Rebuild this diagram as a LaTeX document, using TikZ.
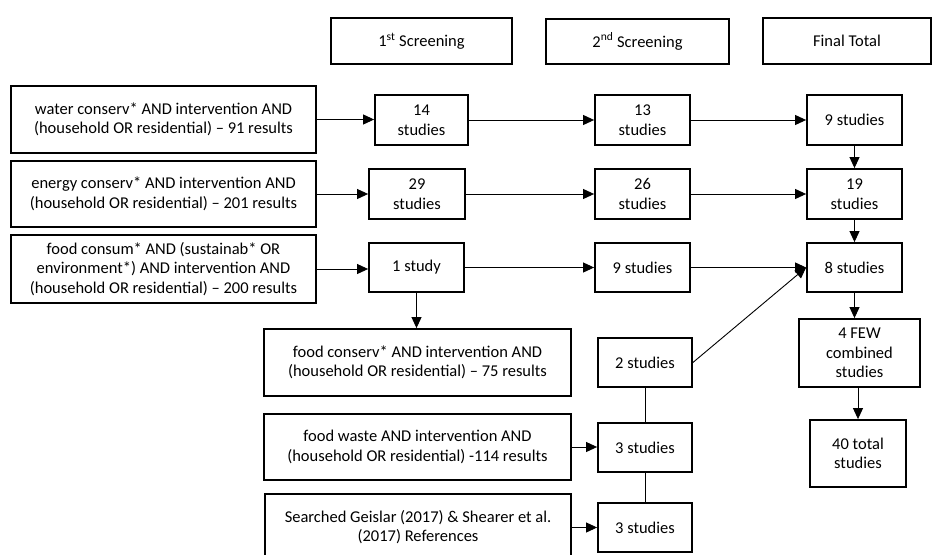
\documentclass[tikz,border=0pt]{standalone}
\usepackage{fontspec}
\setmainfont{Carlito}
\usetikzlibrary{arrows.meta}
\begin{document}
\begin{tikzpicture}[x=1pt,y=-1pt,
 box/.style={draw, line width=1.8pt, inner sep=0pt, align=center, font=\fontsize{16.5}{19.5}\selectfont},
 qbox/.style={box, minimum width=305pt},
 sbox/.style={box, minimum width=95pt, minimum height=49pt},
 arr/.style={-{Triangle[length=11pt,width=10pt]}, line width=0.9pt},
 ln/.style={line width=0.9pt}]
\useasboundingbox (0,0) rectangle (934,554);
% headers
\node[box, minimum width=181pt, minimum height=46pt] (h1) at (421.5,41) {1\textsuperscript{st} Screening};
\node[box, minimum width=183pt, minimum height=45pt] (h2) at (637.5,41.5) {2\textsuperscript{nd} Screening};
\node[box, minimum width=168pt, minimum height=46pt] (h3) at (847,41) {Final Total};
% search boxes
\node[qbox, minimum height=67pt] (water) at (163.5,119.5) {water conserv* AND intervention AND\\(household OR residential) -- 91 results};
\node[qbox, minimum height=66pt] (energy) at (163.5,194) {energy conserv* AND intervention AND\\(household OR residential) -- 201 results};
\node[qbox, minimum height=68pt] (consum) at (163.5,269) {food consum* AND (sustainab* OR\\environment*) AND intervention AND\\(household OR residential) -- 200 results};
\node[qbox, minimum width=307pt, minimum height=67pt] (conserv) at (417.5,362.5) {food conserv* AND intervention AND\\(household OR residential) -- 75 results};
\node[qbox, minimum width=307pt, minimum height=66pt] (waste) at (417.5,447) {food waste AND intervention AND\\(household OR residential) -114 results};
\node[qbox, minimum width=306pt, minimum height=66pt] (geis) at (418,527) {Searched Geislar (2017) \& Shearer et al.\\(2017) References};
% first screening
\node[sbox, minimum width=93pt, minimum height=50pt] (s14) at (421.5,120) {14\\studies};
\node[sbox, minimum width=96pt, minimum height=50pt] (s29) at (417,194) {29\\studies};
\node[sbox] (s1) at (416.5,267.5) {1 study};
% second screening
\node[sbox, minimum height=50pt] (s13) at (642.5,120) {13\\studies};
\node[sbox, minimum height=50pt] (s26) at (642.5,194) {26\\studies};
\node[sbox] (s9b) at (642.5,267.5) {9 studies};
\node[sbox, minimum width=94pt] (s2) at (645,362.5) {2 studies};
\node[sbox, minimum width=94pt] (s3a) at (645,447.5) {3 studies};
\node[sbox, minimum width=94pt] (s3b) at (645,527.5) {3 studies};
% final
\node[sbox, minimum height=50pt] (f9) at (854.5,120) {9 studies};
\node[sbox, minimum height=50pt] (f19) at (854.5,194) {19\\studies};
\node[sbox] (f8) at (854.5,267.5) {8 studies};
\node[box, minimum width=121pt, minimum height=68pt] (few) at (859.5,353) {4 FEW\\combined\\studies};
\node[box, minimum width=96pt, minimum height=67pt] (tot) at (858,453.5) {40 total\\studies};
% connectors
\draw[arr] (water.east) -- (water.east -| s14.west);
\draw[arr] (s14.east) -- (s14.east -| s13.west);
\draw[arr] (s13.east) -- (s13.east -| f9.west);
\draw[arr] (energy.east) -- (energy.east -| s29.west);
\draw[arr] (s29.east) -- (s29.east -| s26.west);
\draw[arr] (s26.east) -- (s26.east -| f19.west);
\draw[arr] (consum.east) -- (consum.east -| s1.west);
\draw[arr] (s1.east) -- (s1.east -| s9b.west);
\draw[arr] (s9b.east) -- (s9b.east -| f8.west);
\draw[arr] (f9.south) -- (f9.south |- f19.north);
\draw[arr] (f19.south) -- (f19.south |- f8.north);
\draw[arr] (f8.south) -- (f8.south |- few.north);
\draw[arr] (few.south -| tot.north) -- (tot.north);
\draw[arr] (s1.south) -- (s1.south |- conserv.north);
\draw[arr] (s2.east) -- (f8.west);
\draw[ln] (s2.south) -- (s3a.north);
\draw[ln] (s3a.south) -- (s3b.north);
\draw[arr] (waste.east) -- (waste.east -| s3a.west);
\draw[arr] (geis.east |- s3b.west) -- (s3b.west);
\end{tikzpicture}
\end{document}
